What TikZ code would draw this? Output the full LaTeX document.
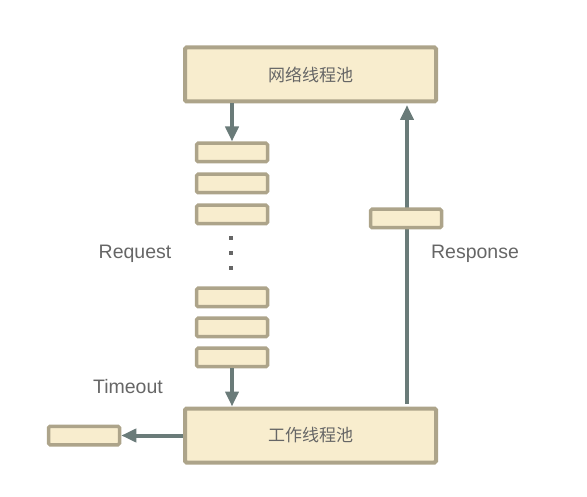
\documentclass[tikz,border=0pt]{standalone}
\usepackage{fontspec}
\setmainfont{Liberation Sans}
\newfontfamily\cjk{Noto Sans CJK SC}
\usetikzlibrary{arrows.meta}
\definecolor{boxfill}{HTML}{F8EDCE}
\definecolor{boxline}{HTML}{ADA48A}
\definecolor{arrowc}{HTML}{6A7B79}
\definecolor{txt}{HTML}{666666}
\tikzset{
  bigbox/.style={draw=boxline, fill=boxfill, line width=4pt, rounded corners=1.5pt, minimum width=251pt, minimum height=54pt, inner sep=0pt, text=txt, font=\cjk\fontsize{17}{17}\selectfont},
  qbox/.style={draw=boxline, fill=boxfill, line width=3.5pt, rounded corners=1.5pt, minimum width=71pt, minimum height=18.5pt, inner sep=0pt},
  conn/.style={draw=arrowc, line width=4pt, -{Triangle[width=13pt,length=15pt]}},
  lbl/.style={text=txt, font=\fontsize{19.5}{19.5}\selectfont, inner sep=0pt},
  dotsq/.style={fill=txt, minimum size=4.5pt, inner sep=0pt}
}
\begin{document}
\begin{tikzpicture}[x=1pt,y=-1pt]
\useasboundingbox (0,0) rectangle (587,497);
\node[bigbox] (net) at (310.5,74.5) {网络线程池};
\node[bigbox] (work) at (310.5,435.5) {工作线程池};
\node[qbox] (q1) at (232,152.5) {};
\node[qbox] (q2) at (232,183.5) {};
\node[qbox] (q3) at (232,214.5) {};
\node[qbox] (q4) at (232,297.5) {};
\node[qbox] (q5) at (232,327.5) {};
\node[qbox] (q6) at (232,357.5) {};
\node[dotsq] (d1) at (231,238) {};
\node[dotsq] (d2) at (231,253) {};
\node[dotsq] (d3) at (231,268) {};
\node[qbox] (timeoutbox) at (84,435.5) {};
\coordinate (rbot) at (407,404);
\coordinate (rtop) at (407,105);
\draw[conn] (rbot) -- (rtop);
\node[qbox] (resp) at (406,218.5) {};
\draw[conn] (net.south -| q1) -- (q1.north);
\draw[conn] (q6.south) -- (work.north -| q6);
\draw[conn] (work.west) -- (timeoutbox.east);
\node[lbl] (request) at (135,254) {Request};
\node[lbl] (response) at (475,254) {Response};
\node[lbl] (timeout) at (128,387) {Timeout};
\end{tikzpicture}
\end{document}
